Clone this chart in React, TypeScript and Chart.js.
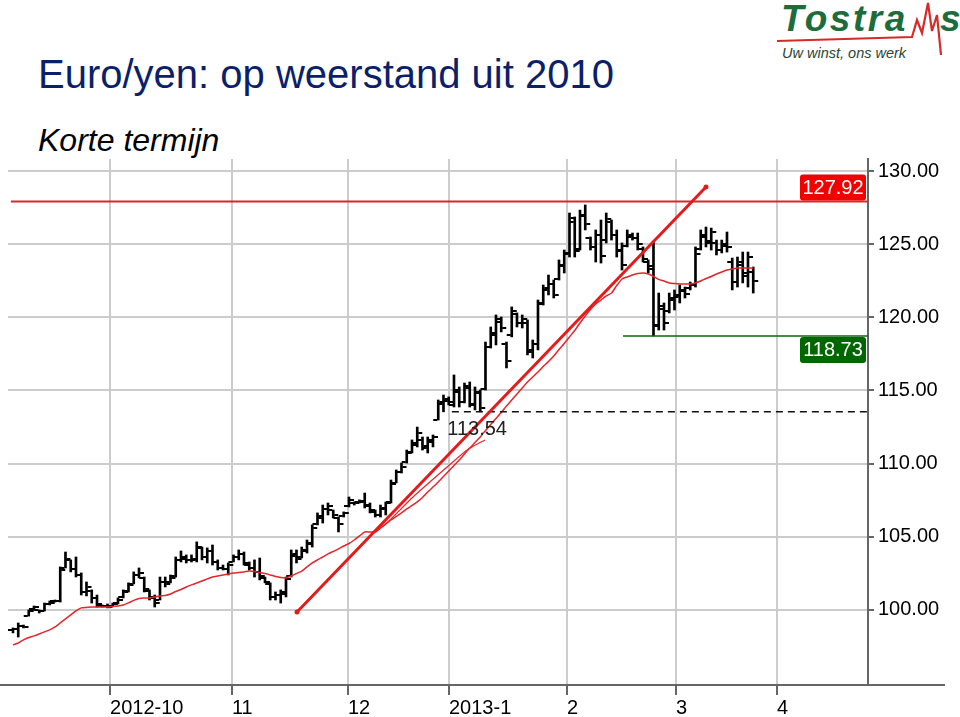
import React, { useEffect, useRef } from "react";
import { Chart, registerables } from "chart.js";

Chart.register(...registerables);

// ---- Data (EUR/JPY daily bars, index = trading day) ----
const barOpen = [
  98.6, 98.7, 98.9, 99.6, 100.05, 100.0, 99.95, 100.4, 100.6, 100.6,
  102.9, 103.4, 102.8, 102.4, 101.2, 101.3, 100.8, 100.3, 100.3, 100.3,
  100.45, 100.9, 101.3, 101.8, 102.4, 102.2, 101.3, 100.9, 100.7, 101.9,
  101.9, 102.3, 103.4, 103.5, 103.4, 103.4, 104.2, 103.6, 104.0, 103.3,
  102.9, 102.8, 103.3, 103.6, 103.8, 103.1, 102.9, 102.6, 102.2, 101.8,
  100.9, 101.0, 101.1, 102.3, 103.7, 103.6, 104.0, 104.5, 105.9, 106.3,
  106.9, 106.8, 106.3, 106.4, 107.1, 107.3, 107.35, 107.4, 107.1, 106.7,
  106.5, 106.9, 107.4, 108.7, 109.4, 110.1, 110.8, 111.3, 111.6, 111.1,
  111.5, 113.0, 114.1, 114.3, 114.0, 114.9, 114.2, 115.3, 114.0, 114.8,
  115.1, 118.0, 118.8, 119.7, 118.2, 118.8, 120.2, 119.6, 119.6, 117.6,
  118.2, 121.0, 121.9, 122.3, 122.6, 123.5, 124.3, 126.5, 124.7, 126.9,
  125.4, 124.8, 125.6, 125.3, 126.5, 125.6, 124.5, 124.9, 125.5, 125.4,
  124.7, 123.8, 123.5, 119.5, 120.6, 120.4, 121.2, 121.4, 121.8, 122.0,
  122.2, 124.7, 125.5, 125.2, 125.1, 124.6, 124.9, 123.8, 122.4, 123.6,
  123.0, 123.1,
];
const barHigh = [
  98.77, 99.11, 98.97, 100.0, 100.27, 100.0, 100.47, 100.61, 100.68, 102.94,
  103.96, 103.42, 103.62, 102.53, 101.91, 101.37, 101.02, 100.34, 100.41, 100.47,
  100.82, 101.37, 101.85, 102.6, 102.87, 102.25, 101.37, 101.02, 102.25, 102.25,
  102.39, 103.62, 104.03, 103.76, 103.76, 104.65, 104.3, 104.24, 104.44, 103.42,
  103.07, 103.21, 103.76, 104.1, 103.96, 103.28, 103.42, 103.55, 102.25, 101.85,
  101.23, 101.37, 102.25, 104.1, 104.1, 104.3, 104.78, 105.81, 106.63, 107.17,
  107.31, 106.83, 106.35, 106.7, 107.72, 107.38, 107.52, 107.99, 107.31, 106.83,
  107.17, 107.38, 108.88, 109.57, 110.04, 110.93, 111.62, 112.5, 111.82, 111.82,
  111.96, 114.35, 114.69, 114.56, 116.06, 115.24, 115.51, 115.58, 115.24, 115.03,
  118.31, 119.34, 120.16, 120.02, 118.31, 120.71, 120.3, 120.16, 119.82, 118.45,
  121.18, 122.21, 122.89, 122.55, 123.92, 124.6, 127.13, 126.86, 127.33, 127.68,
  125.49, 125.97, 126.65, 127.13, 126.65, 125.97, 125.08, 125.97, 125.76, 125.76,
  124.81, 123.92, 125.15, 121.66, 120.98, 121.66, 121.87, 122.21, 122.07, 122.41,
  124.81, 125.97, 126.17, 126.1, 125.28, 125.28, 125.83, 124.05, 124.12, 124.46,
  124.46, 123.44,
];
const barLow = [
  98.43, 98.15, 98.77, 99.58, 100.0, 99.79, 99.93, 100.34, 100.54, 100.54,
  102.87, 102.6, 102.25, 101.02, 100.96, 100.47, 100.2, 100.2, 100.14, 100.27,
  100.41, 100.82, 101.23, 101.78, 102.19, 101.23, 100.68, 100.2, 100.68, 101.57,
  101.85, 102.25, 103.28, 103.21, 103.28, 103.28, 103.42, 103.21, 103.07, 102.73,
  102.73, 102.39, 103.28, 103.42, 103.07, 102.73, 102.25, 102.05, 101.85, 100.68,
  100.68, 100.47, 100.89, 102.25, 103.21, 103.55, 103.89, 104.3, 105.81, 105.94,
  106.49, 106.29, 105.33, 106.35, 107.04, 107.17, 107.31, 106.97, 106.63, 106.35,
  106.35, 106.49, 107.31, 108.68, 109.36, 110.04, 110.73, 111.14, 110.93, 110.73,
  111.14, 112.98, 113.54, 114.01, 113.87, 113.87, 114.15, 113.87, 113.67, 113.54,
  115.03, 117.9, 118.11, 119.0, 116.54, 118.66, 119.34, 119.27, 117.43, 117.22,
  117.77, 120.84, 121.53, 121.32, 122.55, 123.03, 124.12, 124.12, 124.6, 125.97,
  124.6, 123.78, 123.71, 125.08, 125.28, 124.12, 123.23, 124.81, 125.28, 124.6,
  123.78, 123.03, 118.73, 119.13, 119.13, 120.3, 120.5, 120.98, 121.32, 121.87,
  122.07, 124.6, 124.81, 124.6, 124.26, 124.4, 124.46, 121.87, 122.07, 122.35,
  122.07, 121.66,
];
const barClose = [
  98.7, 98.9, 98.8, 99.9, 100.2, 99.9, 100.4, 100.5, 100.6, 102.7,
  103.5, 102.8, 102.4, 101.2, 101.6, 100.8, 100.4, 100.3, 100.2, 100.4,
  100.7, 101.2, 101.7, 102.4, 102.5, 101.4, 100.8, 100.5, 101.9, 101.8,
  102.2, 103.4, 103.6, 103.4, 103.5, 104.3, 103.6, 104.0, 103.3, 102.9,
  102.8, 103.1, 103.6, 103.8, 103.2, 102.9, 102.6, 102.3, 101.9, 100.9,
  101.0, 101.2, 102.1, 103.8, 103.5, 104.1, 104.6, 105.6, 106.4, 106.9,
  107.1, 106.5, 105.9, 106.6, 107.5, 107.3, 107.45, 107.2, 106.8, 106.5,
  107.0, 107.3, 108.6, 109.4, 109.8, 110.7, 111.4, 112.1, 111.2, 111.6,
  111.8, 114.2, 114.4, 114.2, 115.0, 114.2, 115.2, 114.1, 114.9, 113.8,
  118.0, 118.9, 119.9, 119.3, 117.0, 120.4, 119.6, 119.9, 117.8, 118.2,
  120.9, 122.0, 122.3, 121.5, 123.6, 124.4, 126.8, 124.5, 127.0, 126.4,
  124.8, 125.6, 124.2, 126.7, 125.6, 124.6, 123.6, 125.6, 125.4, 125.0,
  124.0, 123.3, 119.4, 120.8, 119.6, 121.3, 121.5, 121.9, 121.6, 122.2,
  124.3, 125.6, 125.1, 125.8, 124.6, 125.0, 124.8, 122.4, 123.8, 122.8,
  124.1, 122.5,
];
const movingAvg = [
  97.61, 97.74, 97.95, 98.12, 98.23, 98.36, 98.5, 98.64, 98.84, 99.11,
  99.39, 99.66, 99.93, 100.14, 100.17, 100.2, 100.2, 100.2, 100.2, 100.24,
  100.27, 100.34, 100.48, 100.65, 100.78, 100.82, 100.82, 100.89, 100.96, 100.99,
  101.09, 101.26, 101.4, 101.57, 101.71, 101.84, 101.98, 102.12, 102.25, 102.32,
  102.39, 102.46, 102.53, 102.56, 102.6, 102.66, 102.63, 102.56, 102.49, 102.39,
  102.29, 102.22, 102.19, 102.32, 102.49, 102.66, 102.94, 103.21, 103.42, 103.62,
  103.83, 104.0, 104.17, 104.37, 104.54, 104.78, 105.06, 105.33, 105.33, 105.33,
  105.6, 105.88, 106.15, 106.39, 106.63, 106.9, 107.14, 107.38, 107.69, 108.06,
  108.4, 108.75, 109.12, 109.5, 109.87, 110.25, 110.66, 111.07, 111.45, 111.82,
  112.27, 112.68, 113.09, 113.5, 113.94, 114.35, 114.76, 115.17, 115.58, 115.92,
  116.26, 116.64, 116.98, 117.36, 117.8, 118.21, 118.66, 119.1, 119.61, 120.09,
  120.53, 120.91, 121.18, 121.46, 121.66, 122.17, 122.62, 122.76, 122.89, 122.99,
  123.03, 122.96, 122.79, 122.59, 122.48, 122.35, 122.31, 122.28, 122.28, 122.28,
  122.35, 122.48, 122.65, 122.79, 122.96, 123.1, 123.23, 123.3, 123.37, 123.37,
  123.37, 123.37,
];
// secondary thin line near the trend (index, value)
const channelIdx = [69.1, 71.2, 76.2, 82.7, 86.5, 89.9];
const channelVal = [105.33, 105.94, 107.72, 109.77, 110.93, 111.62];
// trend line (index, value)
const trendIdx = [54.1, 132.0];
const trendVal = [99.86, 128.91];

// levels
const resistanceLevel = 127.92;
const resistanceFrom = -0.4;
const supportLevel = 118.73;
const supportFrom = 116.2;
const gapLevel = 113.54;
const gapFrom = 83.6;
const gapLabelAt = 88.4;

// axes
const monthTickIdx = [18.48, 41.71, 63.81, 83.05, 105.52, 126.29, 145.52];
const monthLabels = ["2012-10", "11", "12", "2013-1", "2", "3", "4"];
const priceTicks = [100, 105, 110, 115, 120, 125, 130];
const xRange = [-0.95, 162.86];
const yRange = [94.87, 130.82];

const FONT = '"Liberation Sans", Arial, Helvetica, sans-serif';

export default function App() {
  const canvasRef = useRef<HTMLCanvasElement | null>(null);

  useEffect(() => {
    const canvas = canvasRef.current;
    if (!canvas) return;

    const ohlcTicks = {
      id: "ohlcTicks",
      afterDatasetDraw(chart: any, args: any) {
        if (args.index !== 0) return;
        const { ctx } = chart;
        const xs = chart.scales.x;
        const ys = chart.scales.y;
        ctx.save();
        ctx.fillStyle = "#000";
        for (let i = 0; i < barOpen.length; i++) {
          const px = xs.getPixelForValue(i);
          const po = Math.round(ys.getPixelForValue(barOpen[i]));
          const pc = Math.round(ys.getPixelForValue(barClose[i]));
          ctx.fillRect(px - 5, po - 1, 4, 2);
          ctx.fillRect(px + 1, pc - 1, 4, 2);
        }
        ctx.restore();
      },
    };

    const levelLabels = {
      id: "levelLabels",
      afterDatasetsDraw(chart: any) {
        const { ctx, chartArea: a } = chart;
        const xs = chart.scales.x;
        const ys = chart.scales.y;
        const box = (top: number, fill: string, text: string) => {
          const left = a.right - 68;
          ctx.fillStyle = fill;
          ctx.beginPath();
          if ((ctx as any).roundRect) (ctx as any).roundRect(left, top, 66, 26, 3);
          else ctx.rect(left, top, 66, 26);
          ctx.fill();
          ctx.fillStyle = "#fff";
          ctx.font = `20px ${FONT}`;
          ctx.textAlign = "center";
          ctx.textBaseline = "middle";
          ctx.fillText(text, left + 33, top + 14);
        };
        ctx.save();
        box(ys.getPixelForValue(resistanceLevel) - 27, "#f20000", resistanceLevel.toFixed(2));
        box(ys.getPixelForValue(supportLevel) + 1, "#006600", supportLevel.toFixed(2));
        ctx.fillStyle = "#222";
        ctx.font = `20px ${FONT}`;
        ctx.textAlign = "center";
        ctx.textBaseline = "top";
        ctx.fillText(gapLevel.toFixed(2), xs.getPixelForValue(gapLabelAt), ys.getPixelForValue(gapLevel) + 8);
        ctx.restore();
      },
      afterDraw(chart: any) {
        const { ctx, chartArea: a } = chart;
        ctx.save();
        ctx.strokeStyle = "#666";
        ctx.lineWidth = 2;
        ctx.beginPath();
        ctx.moveTo(0, a.bottom);
        ctx.lineTo(a.left, a.bottom);
        ctx.moveTo(a.right, a.bottom);
        ctx.lineTo(chart.width - 15, a.bottom);
        ctx.stroke();
        ctx.restore();
      },
    };

    const pts = (xs: number[], ys: number[]) => xs.map((x, i) => ({ x, y: ys[i] }));

    const chart = new Chart(canvas, {
      type: "line",
      data: {
        datasets: [
          {
            type: "bar",
            data: barHigh.map((h, i) => ({ x: i, y: [barLow[i], h] })) as any,
            backgroundColor: "#000",
            borderWidth: 0,
            barThickness: 2,
            order: 10,
          } as any,
          {
            data: movingAvg.map((v, i) => ({ x: i, y: v })),
            borderColor: "#e3262b",
            borderWidth: 1.5,
            pointRadius: 0,
            tension: 0.2,
            order: 5,
          },
          {
            data: pts(channelIdx, channelVal),
            borderColor: "#e3262b",
            borderWidth: 1.2,
            pointRadius: 0,
            tension: 0.2,
            order: 5,
          },
          {
            data: pts([resistanceFrom, xRange[1]], [resistanceLevel, resistanceLevel]),
            borderColor: "#d42a2a",
            borderWidth: 2,
            pointRadius: 0,
            order: 4,
          },
          {
            data: pts([supportFrom, xRange[1]], [supportLevel, supportLevel]),
            borderColor: "#0a660a",
            borderWidth: 1.5,
            pointRadius: 0,
            order: 4,
          },
          {
            data: pts([gapFrom, xRange[1]], [gapLevel, gapLevel]),
            borderColor: "#111",
            borderWidth: 1.5,
            borderDash: [7, 5],
            pointRadius: 0,
            order: 4,
          },
          {
            data: pts(trendIdx, trendVal),
            borderColor: "#e41b1b",
            borderWidth: 3,
            pointRadius: 2.5,
            pointBorderWidth: 0,
            pointBackgroundColor: "#e41b1b",
            order: 1,
          },
        ],
      },
      options: {
        animation: false,
        responsive: false,
        maintainAspectRatio: false,
        events: [],
        layout: { padding: { left: 8, top: 159, right: 0, bottom: 0 } },
        plugins: { legend: { display: false }, tooltip: { enabled: false } },
        scales: {
          x: {
            type: "linear",
            min: xRange[0],
            max: xRange[1],
            offset: false,
            afterFit: (s: any) => {
              s.height = 32;
            },
            afterBuildTicks: (s: any) => {
              s.ticks = monthTickIdx.map((v) => ({ value: v }));
            },
            grid: {
              color: "#cccccc",
              lineWidth: 2,
              tickLength: 10,
              tickColor: "#666",
              offset: false,
            },
            border: { color: "#666", width: 2 },
            ticks: {
              align: "start",
              padding: 1,
              autoSkip: false,
              maxRotation: 0,
              color: "#000",
              font: { size: 20, family: FONT },
              callback: (_v: any, i: number) => monthLabels[i],
            },
          },
          y: {
            type: "linear",
            position: "right",
            min: yRange[0],
            max: yRange[1],
            afterFit: (s: any) => {
              s.width = 92;
            },
            afterBuildTicks: (s: any) => {
              s.ticks = priceTicks.map((v) => ({ value: v }));
            },
            grid: {
              color: "#cccccc",
              lineWidth: 2,
              tickLength: 6,
              tickColor: "#666",
            },
            border: { color: "#666", width: 2 },
            ticks: {
              padding: 4,
              color: "#000",
              font: { size: 20, family: FONT },
              callback: (v: any) => Number(v).toFixed(2),
            },
          },
        },
      } as any,
      plugins: [ohlcTicks, levelLabels],
    });

    return () => chart.destroy();
  }, []);

  return (
    <div
      style={{
        position: "absolute",
        left: 0,
        top: 0,
        width: 960,
        height: 717,
        overflow: "hidden",
        background: "#fff",
        fontFamily: FONT,
      }}
    >
      <div
        style={{
          position: "absolute",
          left: 38,
          top: 54,
          fontSize: 40,
          lineHeight: "40px",
          color: "#0b1f6b",
          whiteSpace: "nowrap",
        }}
      >
        Euro/yen: op weerstand uit 2010
      </div>
      <div
        style={{
          position: "absolute",
          left: 38,
          top: 124,
          fontSize: 32,
          lineHeight: "32px",
          fontStyle: "italic",
          color: "#000",
          whiteSpace: "nowrap",
        }}
      >
        Korte termijn
      </div>
      <svg
        width={200}
        height={70}
        style={{ position: "absolute", left: 760, top: 0 }}
      >
        <text
          x={21}
          y={31}
          fontFamily={FONT}
          fontWeight="bold"
          fontStyle="italic"
          fontSize={37}
          letterSpacing={2.5}
          fill="#1e6b3c"
        >
          Tostra
        </text>
        <polyline
          points="17,41 152,37 157,20 162,33 168,3 172,31 177,15 181,55"
          fill="none"
          stroke="#d62a2a"
          strokeWidth={2.2}
          strokeLinejoin="miter"
        />
        <text
          x={180}
          y={31}
          fontFamily={FONT}
          fontWeight="bold"
          fontStyle="italic"
          fontSize={37}
          fill="#1e6b3c"
        >
          s
        </text>
        <text
          x={22}
          y={58}
          fontFamily={FONT}
          fontStyle="italic"
          fontSize={14.5}
          fill="#2b4536"
        >
          Uw winst, ons werk
        </text>
      </svg>
      <canvas
        ref={canvasRef}
        width={960}
        height={717}
        style={{ position: "absolute", left: 0, top: 0, width: 960, height: 717 }}
      />
    </div>
  );
}
